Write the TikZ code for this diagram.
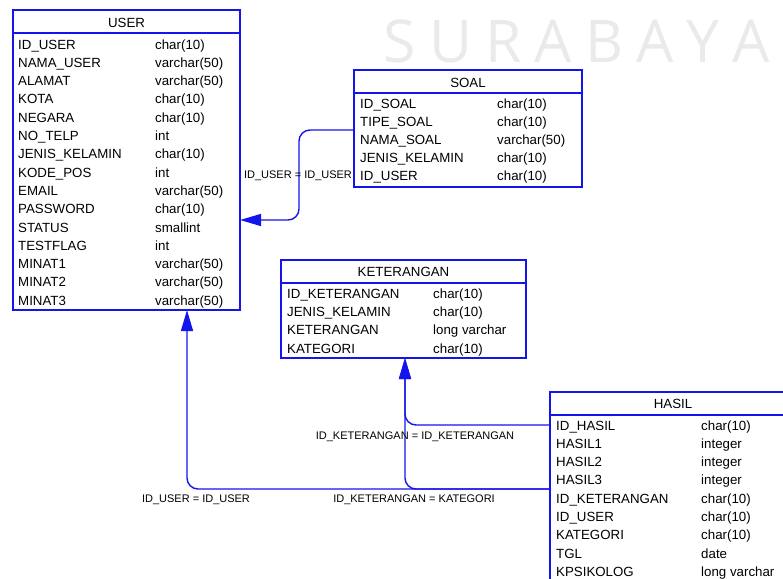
\documentclass[tikz,border=0pt]{standalone}
\usepackage{fontspec}
\setmainfont{Liberation Sans}
\newfontfamily\wmfont{Open Sans}
\usetikzlibrary{arrows.meta,calc}
\definecolor{erblue}{RGB}{20,20,235}
\definecolor{wmgray}{RGB}{234,234,234}

\tikzset{
  tbl/.style={draw=erblue, line width=1.3pt, anchor=north west, inner sep=0pt, outer sep=0pt},
  sep/.style={draw=erblue, line width=1.3pt},
  hdr/.style={anchor=base, inner sep=0pt, font=\fontsize{13.3}{13.3}\selectfont},
  fld/.style={anchor=base west, inner sep=0pt, font=\fontsize{13.3}{13.3}\selectfont},
  rel/.style={anchor=base, inner sep=0pt, font=\fontsize{11}{11}\selectfont},
  conn/.style={draw=erblue, line width=1.4pt, rounded corners=11pt,
    -{Triangle[length=21pt,width=12pt]}},
  wm/.style={anchor=base, inner sep=0pt, text=wmgray, font=\wmfont\fontsize{59}{59}\selectfont},
}

\begin{document}
\begin{tikzpicture}[x=1pt,y=-1pt]
\useasboundingbox (0,0) rectangle (783,578);
\clip (0,0) rectangle (783,578);

% watermark
\node[wm] (wm) at (577,62) {S\kern13pt U\kern13pt R\kern13pt A\kern13pt B\kern13pt A\kern13pt Y\kern13pt A};

% ---- USER ----
\node[tbl, minimum width=227pt, minimum height=300pt] (user) at (13,10) {};
\draw[sep] ($(user.north west)+(0,23)$) -- ($(user.north east)+(0,23)$);
\node[hdr] (user-h) at ($(user.north)+(0,17.8)$) {USER};
\foreach \f/\t [count=\i from 0] in {
  ID\_USER/char(10), NAMA\_USER/varchar(50), ALAMAT/varchar(50),
  KOTA/char(10), NEGARA/char(10), NO\_TELP/int, JENIS\_KELAMIN/char(10),
  KODE\_POS/int, EMAIL/varchar(50), PASSWORD/char(10), STATUS/smallint,
  TESTFLAG/int, MINAT1/varchar(50), MINAT2/varchar(50), MINAT3/varchar(50)} {
  \node[fld] (user-f\i) at ($(user.north west)+(5,{39+18.3*\i})$) {\f};
  \node[fld] (user-t\i) at ($(user.north west)+(142,{39+18.3*\i})$) {\t};
}

% ---- SOAL ----
\node[tbl, minimum width=228pt, minimum height=117pt] (soal) at (354,70) {};
\draw[sep] ($(soal.north west)+(0,23)$) -- ($(soal.north east)+(0,23)$);
\node[hdr] (soal-h) at ($(soal.north)+(0,17.3)$) {SOAL};
\foreach \f/\t [count=\i from 0] in {
  ID\_SOAL/char(10), TIPE\_SOAL/char(10), NAMA\_SOAL/varchar(50),
  JENIS\_KELAMIN/char(10), ID\_USER/char(10)} {
  \node[fld] (soal-f\i) at ($(soal.north west)+(6,{38.3+18.1*\i})$) {\f};
  \node[fld] (soal-t\i) at ($(soal.north west)+(143,{38.3+18.1*\i})$) {\t};
}

% ---- KETERANGAN ----
\node[tbl, minimum width=245pt, minimum height=98pt] (ket) at (281,260) {};
\draw[sep] ($(ket.north west)+(0,23)$) -- ($(ket.north east)+(0,23)$);
\node[hdr] (ket-h) at ($(ket.north)+(0,16.9)$) {KETERANGAN};
\foreach \f/\t [count=\i from 0] in {
  ID\_KETERANGAN/char(10), JENIS\_KELAMIN/char(10),
  KETERANGAN/long varchar, KATEGORI/char(10)} {
  \node[fld] (ket-f\i) at ($(ket.north west)+(6,{38.3+18.3*\i})$) {\f};
  \node[fld] (ket-t\i) at ($(ket.north west)+(152,{38.3+18.3*\i})$) {\t};
}

% ---- HASIL ----
\node[tbl, minimum width=246pt, minimum height=200pt] (hasil) at (550,392) {};
\draw[sep] ($(hasil.north west)+(0,23)$) -- ($(hasil.north east)+(0,23)$);
\node[hdr] (hasil-h) at ($(hasil.north)+(0,16.6)$) {HASIL};
\foreach \f/\t [count=\i from 0] in {
  ID\_HASIL/char(10), HASIL1/integer, HASIL2/integer, HASIL3/integer,
  ID\_KETERANGAN/char(10), ID\_USER/char(10), KATEGORI/char(10),
  TGL/date, KPSIKOLOG/long varchar} {
  \node[fld] (hasil-f\i) at ($(hasil.north west)+(6,{38+18.3*\i})$) {\f};
  \node[fld] (hasil-t\i) at ($(hasil.north west)+(151,{38+18.3*\i})$) {\t};
}

% ---- relationships ----
\coordinate (soal-out) at ($(soal.north west)+(0,60)$);
\coordinate (user-in1) at ($(user.north east)+(0,210)$);
\coordinate (user-in2) at ($(user.south west)+(174,0)$);
\coordinate (ket-in) at ($(ket.south west)+(124,0)$);
\coordinate (hasil-out1) at ($(hasil.north west)+(0,33)$);
\coordinate (hasil-out2) at ($(hasil.north west)+(0,97)$);

\draw[conn] (soal-out) -- ++(-55,0) |- (user-in1);
\draw[conn] (hasil-out1) -| (ket-in);
\draw[conn] (hasil-out2) -| (ket-in);
\draw[conn] (hasil-out2) -| (user-in2);

\node[rel] (lbl-su) at (298,178.3) {ID\_USER = ID\_USER};
\node[rel] (lbl-kk) at (415,439.3) {ID\_KETERANGAN = ID\_KETERANGAN};
\node[rel] (lbl-hu) at (196,502) {ID\_USER = ID\_USER};
\node[rel] (lbl-hk) at (414,502) {ID\_KETERANGAN = KATEGORI};
\end{tikzpicture}
\end{document}
